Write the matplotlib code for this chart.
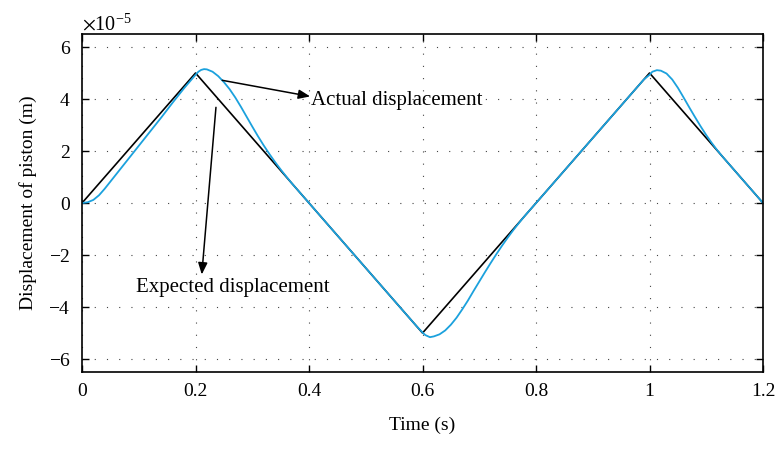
import matplotlib.pyplot as plt
from matplotlib.ticker import ScalarFormatter

# expected (reference) triangle wave, values in 1e-5 m
t_expected = [0.0, 0.2, 0.6, 1.0, 1.2]
x_expected = [0.0, 5.0, -5.0, 5.0, 0.0]

# actual piston displacement, values in 1e-5 m
t_actual = [0.0, 0.01, 0.02, 0.03, 0.04, 0.06, 0.08, 0.10, 0.12, 0.14, 0.16, 0.18, 0.20,
            0.205, 0.21, 0.215, 0.22, 0.23, 0.24, 0.25, 0.26, 0.27, 0.28, 0.29, 0.30,
            0.31, 0.32, 0.33, 0.34, 0.35, 0.36, 0.37, 0.40, 0.50, 0.59, 0.60,
            0.605, 0.613, 0.62, 0.63, 0.64, 0.65, 0.66, 0.67, 0.68, 0.69, 0.70,
            0.71, 0.72, 0.73, 0.74, 0.75, 0.76, 0.77, 0.78, 0.80, 0.90, 0.98, 0.99, 1.00,
            1.005, 1.013, 1.02, 1.03, 1.04, 1.05, 1.06, 1.07, 1.08, 1.09, 1.10,
            1.11, 1.12, 1.13, 1.20]
x_actual = [0.0, 0.03, 0.12, 0.30, 0.55, 1.10, 1.65, 2.20, 2.75, 3.30, 3.87, 4.42, 4.93,
            5.05, 5.12, 5.15, 5.14, 5.05, 4.88, 4.65, 4.38, 4.06, 3.70, 3.32, 2.94,
            2.57, 2.22, 1.89, 1.58, 1.29, 1.015, 0.75, 0.0, -2.5, -4.75, -4.98,
            -5.08, -5.16, -5.13, -5.05, -4.90, -4.68, -4.41, -4.09, -3.75, -3.38, -3.02,
            -2.66, -2.31, -1.97, -1.645, -1.335, -1.04, -0.765, -0.5, 0.0, 2.5, 4.5, 4.75, 4.93,
            5.05, 5.11, 5.09, 4.98, 4.75, 4.43, 4.06, 3.68, 3.31, 2.95, 2.61,
            2.30, 2.01, 1.75, 0.0]

scale = 1e-5

plt.rcParams['font.family'] = ['Liberation Serif', 'DejaVu Serif']
plt.rcParams['mathtext.fontset'] = 'stix'

fig = plt.figure(figsize=(7.79, 4.5), dpi=100)
ax = fig.add_axes([0.1053, 0.1733, 0.8742, 0.7511])

ax.plot(t_expected, [v * scale for v in x_expected], color='black', lw=1.2)
ax.plot(t_actual, [v * scale for v in x_actual], color='#1ba1dd', lw=1.3)

ax.set_xlim(0, 1.2)
ax.set_ylim(-6.5e-5, 6.5e-5)
ax.set_xticks([0, 0.2, 0.4, 0.6, 0.8, 1.0, 1.2])
ax.set_xticklabels(['0', '0.2', '0.4', '0.6', '0.8', '1', '1.2'])
ax.set_yticks([v * scale for v in [-6, -4, -2, 0, 2, 4, 6]])

fmt = ScalarFormatter(useMathText=True)
fmt.set_powerlimits((0, 0))
ax.yaxis.set_major_formatter(fmt)
ax.yaxis.get_offset_text().set_fontsize(14.5)

ax.tick_params(direction='in', top=True, right=True, length=5, width=1,
               labelsize=14, pad=8)
for sp in ax.spines.values():
    sp.set_linewidth(1.2)

ax.grid(True, color='#444444', linestyle=(0, (1, 10)), linewidth=0.8)

ax.set_xlabel('Time (s)', fontsize=14, labelpad=12)
ax.set_ylabel('Displacement of piston (m)', fontsize=14, labelpad=8)

arrow = dict(arrowstyle='-|>,head_length=0.5,head_width=0.2', color='black', lw=1.1,
             mutation_scale=14, shrinkA=0, shrinkB=0)
ax.annotate('', xy=(0.402, 4.1e-5), xytext=(0.247, 4.72e-5), arrowprops=arrow)
ax.text(0.403, 3.95e-5, 'Actual displacement', fontsize=15, va='center', ha='left')
ax.annotate('', xy=(0.211, -2.75e-5), xytext=(0.236, 3.68e-5), arrowprops=arrow)
ax.text(0.266, -3.25e-5, 'Expected displacement', fontsize=15, va='center', ha='center')

fig.savefig('out.png', dpi=100)
